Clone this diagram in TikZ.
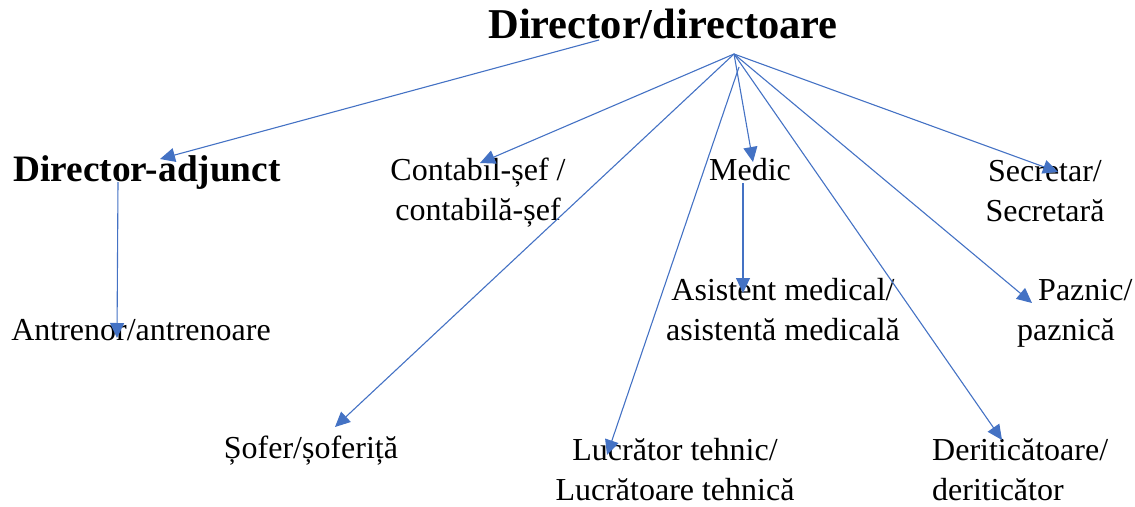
\documentclass[tikz,border=0pt]{standalone}
\usepackage{fontspec}
\setmainfont{Liberation Serif}
\usepackage{tikz}
\usetikzlibrary{arrows.meta}
\usetikzlibrary{calc}
\definecolor{linkblue}{RGB}{68,114,196}
\newcommand{\rolesize}{\fontsize{32}{40}\selectfont}
\newcommand{\subsize}{\fontsize{37.3}{44}\selectfont\bfseries}
\newcommand{\topsize}{\fontsize{42.5}{50}\selectfont\bfseries}
\tikzset{
  role/.style={inner sep=0pt, font=\rolesize, align=center},
  link/.style={draw=linkblue, line width=1.1pt,
    -{Triangle[length=15pt,width=14pt]}}
}

\begin{document}
\begin{tikzpicture}[x=1pt, y=-1pt, anchor=base]
    \useasboundingbox (0,0) rectangle (1135,506);

    % top row
    \node (dir) at (663,38) [inner sep=0pt, font=\topsize] {Director/directoare};
    \coordinate (hub) at (734,54);
    \coordinate (hubl) at (739,67);
    \coordinate (dirl) at (599,40);

    % second row (base = last line)
    \node (adj) at (147,181) [inner sep=0pt, font=\subsize] {Director-adjunct};
    \node (contabil) at (478,220) [role] {Contabil-șef /\\contabilă-șef};
    \node (medic) at (750,180) [role] {Medic};
    \node (secretar) at (1045,221) [role] {Secretar/\\Secretară};

    % third row
    \node (antr) at (141,340) [role] {Antrenor/antrenoare};
    \node (asist) at (783,340) [role] {Asistent medical/\\asistentă medicală};
    \node (paznic) at (1017,340) [role, align=left, anchor=base west] {\hspace*{21pt}Paznic/\\paznică};

    % bottom row
    \node (sofer) at (311,458) [role] {Șofer/șoferiță};
    \node (lucr) at (675,500) [role] {Lucrător tehnic/\\Lucrătoare tehnică};
    \node (derit) at (932,500) [role, align=left, anchor=base west] {Deriticătoare/\\deriticător};

    % links
    \draw[link] (dirl) -- ($(adj.base)+(13,-22)$);
    \draw[link] (hub) -- ($(contabil.base)+(2,-57)$);
    \draw[link] (hub) -- ($(medic.base)+(3,-18)$);
    \draw[link] (hub) -- ($(secretar.base)+(13,-49)$);
    \draw[link] (hub) -- ($(paznic.base west)+(15,-37)$);
    \draw[link] (hub) -- ($(sofer.base)+(24,-31)$);
    \draw[link] (hub) -- ($(derit.base west)+(70,-60)$);
    \draw[link] (hubl) -- ($(lucr.base)+(-68,-45)$);
    \draw[link] ($(adj.base)+(-29,1)$) -- ($(antr.base)+(-24,-2)$);
    \draw[link] ($(medic.base)+(-7,3)$) -- ($(asist.base)+(-40,-47)$);
\end{tikzpicture}
\end{document}
